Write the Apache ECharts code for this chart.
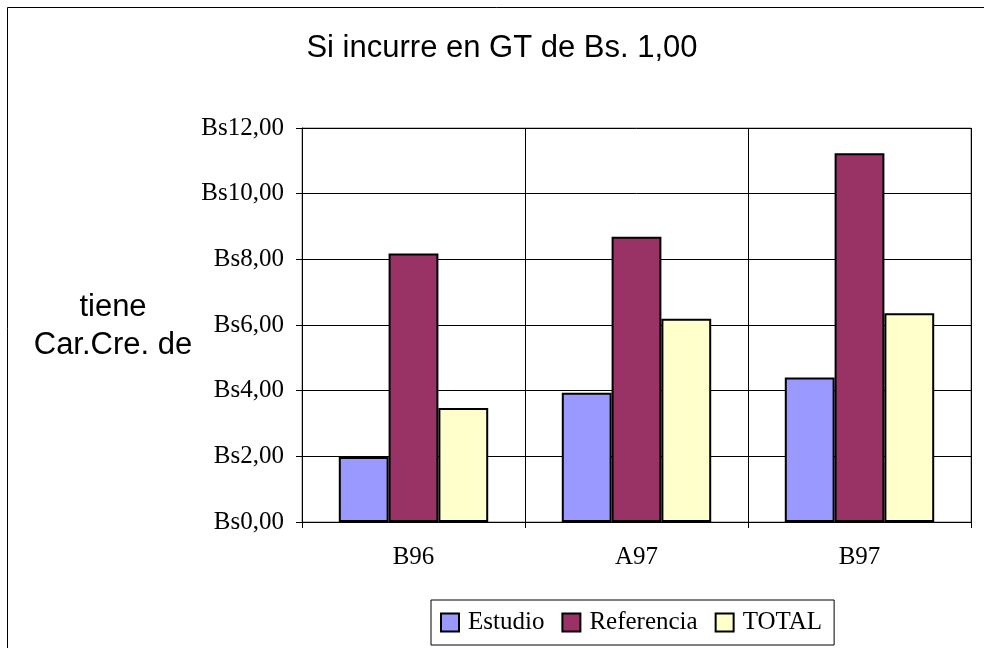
<!DOCTYPE html>
<html>
	<head>
		<meta charset="utf-8">
		<title>Si incurre en GT de Bs. 1,00</title>
		<script src="https://cdn.jsdelivr.net/npm/echarts@6/dist/echarts.min.js"></script>
		<style>
			html, body {
				margin: 0;
				padding: 0;
				background: #fff;
			}
			#chart {
				width: 984px;
				height: 648px;
			}
		</style>
	</head>
	<body>
		<div id="chart"></div>
		<script type="text/javascript">
			var categories = ['B96', 'A97', 'B97'];
			var estudio = [1.98, 3.94, 4.40];
			var referencia = [8.18, 8.69, 11.23];
			var total = [3.47, 6.19, 6.36];
			var seriesNames = ['Estudio', 'Referencia', 'TOTAL'];
			var colors = ['#9999ff', '#993366', '#ffffcc'];

			var serifFont = '"Liberation Serif", "Times New Roman", serif';
			var sansFont = 'Arial, "Liberation Sans", sans-serif';

			var myChart = echarts.init(document.getElementById('chart'));

			function barSeries(name, data, color) {
				return {
					name: name,
					type: 'bar',
					data: data,
					barGap: 0,
					barCategoryGap: '33%',
					itemStyle: {
						color: color,
						borderColor: '#000',
						borderWidth: 2
					}
				};
			}

			var option = {
				animation: false,
				backgroundColor: '#fff',
				graphic: [{
					type: 'rect',
					shape: { x: 7.5, y: 7.5, width: 1000, height: 660 },
					style: { fill: 'none', stroke: '#000', lineWidth: 1 },
					silent: true
				}, {
					type: 'text',
					style: {
						x: 113,
						y: 326,
						text: 'tiene\nCar.Cre. de',
						font: '31px ' + sansFont,
						fill: '#000',
						align: 'center',
						verticalAlign: 'middle',
						lineHeight: 38
					},
					silent: true
				}],
				title: {
					text: 'Si incurre en GT de Bs. 1,00',
					left: 497,
					textAlign: 'center',
					top: 28,
					textStyle: {
						fontFamily: sansFont,
						fontSize: 31,
						fontWeight: 'normal',
						color: '#000'
					}
				},
				legend: {
					data: seriesNames,
					left: 431,
					top: 600,
					icon: 'rect',
					itemWidth: 18,
					itemHeight: 18,
					itemGap: 17,
					padding: [10, 12, 10, 9],
					borderColor: '#000',
					borderWidth: 1,
					itemStyle: {
						borderColor: '#000',
						borderWidth: 2
					},
					textStyle: {
						fontFamily: serifFont,
						fontSize: 25,
						color: '#000',
						padding: [0, 0, 0, 4]
					}
				},
				grid: {
					left: 302,
					right: 13,
					top: 128,
					bottom: 126,
					show: true,
					borderColor: '#808080',
					borderWidth: 1,
					containLabel: false
				},
				xAxis: [{
					type: 'category',
					data: categories,
					axisLine: { lineStyle: { color: '#000', width: 1 } },
					axisTick: { show: true, length: 6, lineStyle: { color: '#000' } },
					splitLine: { show: true, lineStyle: { color: '#000', width: 1 } },
					axisLabel: {
						margin: 23,
						fontFamily: serifFont,
						fontSize: 25,
						color: '#000'
					}
				}],
				yAxis: [{
					type: 'value',
					min: 0,
					max: 12,
					interval: 2,
					axisLine: { show: true, lineStyle: { color: '#000', width: 1 } },
					axisTick: { show: true, length: 6, lineStyle: { color: '#000' } },
					splitLine: { show: true, lineStyle: { color: '#000', width: 1 } },
					axisLabel: {
						margin: 18,
						fontFamily: serifFont,
						fontSize: 25,
						color: '#000',
						formatter: function(v) {
							return 'Bs' + v.toFixed(2).replace('.', ',');
						}
					}
				}],
				series: [
					barSeries(seriesNames[0], estudio, colors[0]),
					barSeries(seriesNames[1], referencia, colors[1]),
					barSeries(seriesNames[2], total, colors[2])
				]
			};
			myChart.setOption(option);
		</script>
	</body>
</html>
